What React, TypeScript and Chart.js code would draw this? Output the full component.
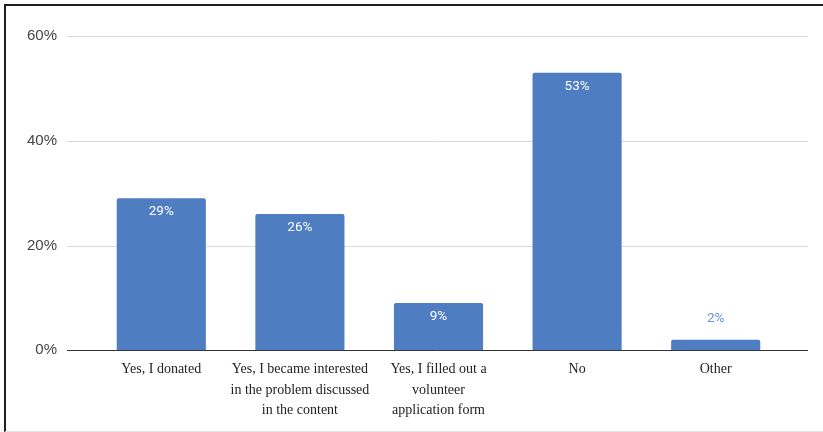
import React, { useEffect, useRef } from "react";
import { Chart, registerables } from "chart.js";

Chart.register(...registerables);

const categories: (string | string[])[] = [
  "Yes, I donated",
  ["Yes, I became interested", "in the problem discussed", "in the content"],
  ["Yes, I filled out a", "volunteer", "application form"],
  "No",
  "Other",
];
const values = [29, 26, 9, 53, 2];
const yTicks = [0, 20, 40, 60];

const BAR = "#4e7dc2";

const extendedGrid = {
  id: "extendedGrid",
  beforeDatasetsDraw(chart: any) {
    const { ctx, chartArea, scales } = chart;
    const y = scales.y;
    ctx.save();
    yTicks.forEach((t) => {
      const py = Math.round(y.getPixelForValue(t)) + 0.5;
      ctx.beginPath();
      ctx.strokeStyle = t === 0 ? "#333333" : "#d9d9d9";
      ctx.lineWidth = 1;
      ctx.moveTo(chartArea.left - 25, py);
      ctx.lineTo(chartArea.right + 23, py);
      ctx.stroke();
    });
    ctx.restore();
  },
};

const valueLabels = {
  id: "valueLabels",
  afterDatasetsDraw(chart: any) {
    const { ctx } = chart;
    const meta = chart.getDatasetMeta(0);
    ctx.save();
    ctx.font = "13.5px Roboto, 'Liberation Sans', sans-serif";
    ctx.textAlign = "center";
    ctx.textBaseline = "middle";
    meta.data.forEach((bar: any, i: number) => {
      const v = values[i];
      const h = bar.base - bar.y;
      if (h > 30) {
        ctx.fillStyle = "#ffffff";
        ctx.fillText(v + "%", bar.x, bar.y + 13.5);
      } else {
        ctx.fillStyle = "#6393dc";
        ctx.fillText(v + "%", bar.x, bar.y - 21);
      }
    });
    ctx.restore();
  },
};

export default function App() {
  const ref = useRef<HTMLCanvasElement>(null);
  useEffect(() => {
    document.body.style.margin = "0";
    const chart = new Chart(ref.current!, {
      type: "bar",
      data: {
        labels: categories,
        datasets: [
          {
            data: values,
            backgroundColor: BAR,
            borderRadius: 2,
            borderSkipped: "bottom",
            categoryPercentage: 1,
            barPercentage: 0.643,
          },
        ],
      },
      options: {
        animation: false,
        responsive: true,
        maintainAspectRatio: false,
        layout: { padding: { top: 36, right: 38, bottom: 2, left: 0 } },
        plugins: { legend: { display: false }, tooltip: { enabled: false } },
        scales: {
          x: {
            grid: { display: false, drawTicks: false },
            border: { display: false },
            ticks: {
              padding: 9,
              maxRotation: 0,
              autoSkip: false,
              color: "#222222",
              font: { family: "'Liberation Serif', 'Times New Roman', serif", size: 14, lineHeight: 1.47 },
            },
          },
          y: {
            min: 0,
            max: 60,
            afterFit: (s: any) => {
              s.width = 92;
              s.paddingTop = 0;
              s.paddingBottom = 0;
            },
            afterBuildTicks: (s: any) => {
              s.ticks = yTicks.map((v) => ({ value: v }));
            },
            grid: { display: false, drawTicks: false },
            border: { display: false },
            ticks: {
              padding: 35,
              color: "#444444",
              font: { family: "'Liberation Sans', Arial, sans-serif", size: 15 },
              callback: (v: any) => v + "%",
            },
          },
        },
      },
      plugins: [extendedGrid, valueLabels],
    });
    return () => chart.destroy();
  }, []);
  return (
    <div style={{ position: "relative", width: 823, height: 432, background: "#fff", overflow: "hidden" }}>
      <canvas ref={ref} />
      <div
        style={{
          position: "absolute",
          left: 4,
          top: 4,
          width: 819,
          height: 425,
          borderTop: "2px solid #1e1e1e",
          borderLeft: "2px solid #1e1e1e",
          borderBottom: "1px solid #e2e2e2",
          pointerEvents: "none",
        }}
      />
    </div>
  );
}
